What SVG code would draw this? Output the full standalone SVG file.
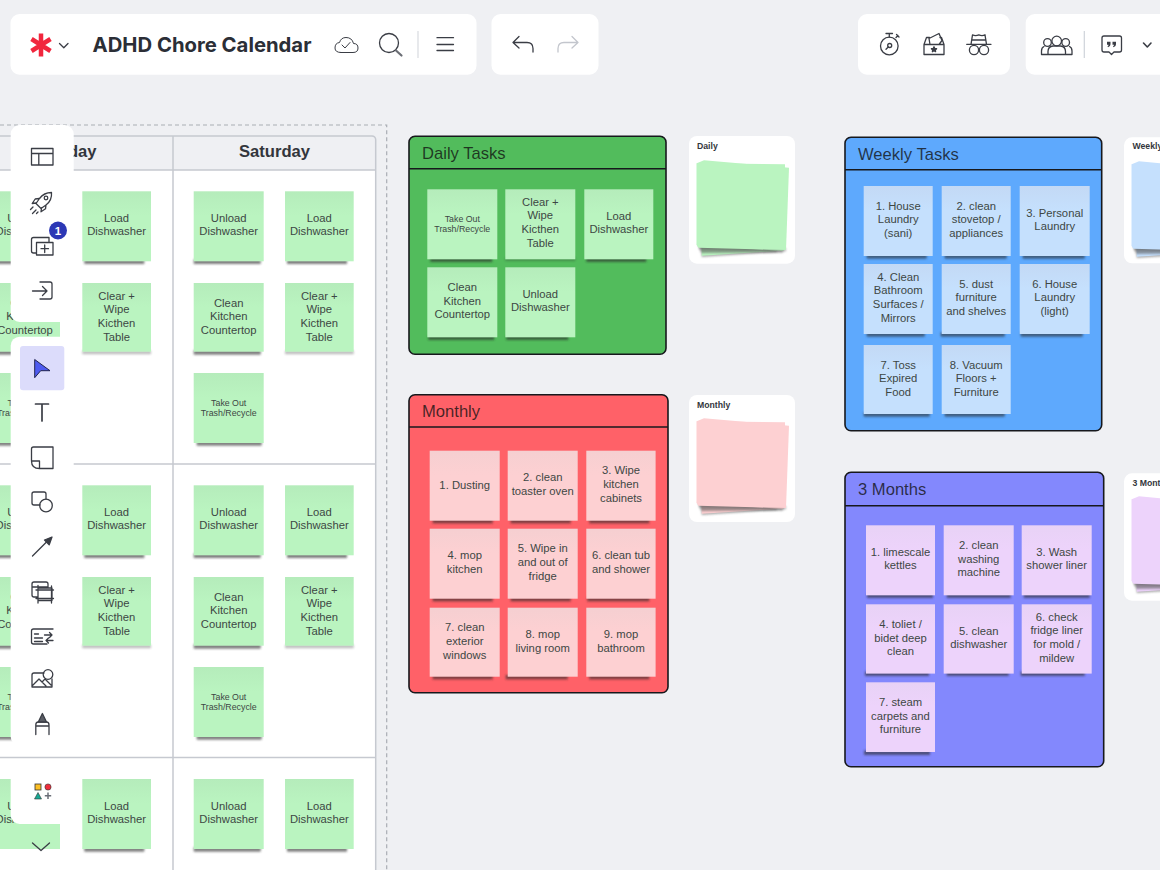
<svg xmlns="http://www.w3.org/2000/svg" width="1160" height="870" viewBox="0 0 1160 870">
<style>
text{font-family:"Liberation Sans",Arial,sans-serif}
.pn{fill:#fff}
.ic{fill:none;stroke:#3a3d45;stroke-width:1.3;stroke-linecap:round;stroke-linejoin:round}
.ln{fill:none;stroke:#c6c9d0;stroke-width:1.5}
.sh{fill:#2b2b2b;opacity:.6;filter:url(#bl);transform:translateY(1.2px)}
.gr{fill:url(#gg)}.bu{fill:url(#gb)}.pk{fill:url(#gp)}.pu{fill:url(#gu)}
.t{font-size:11.25px;fill:#3d4744;text-anchor:middle}
.s{font-size:8.8px;fill:#3d4744;text-anchor:middle}
.fr{stroke:#17181c;stroke-width:1.6}
.ti{font-size:16.6px;fill:#111;fill-opacity:.78}
.hd{font-size:16.6px;font-weight:700;fill:#33363c}
.cl{font-size:8.7px;font-weight:700;fill:#33363c}
</style>
<defs>
<filter id="bl" x="-20%" y="-100%" width="140%" height="300%"><feGaussianBlur stdDeviation="1.2"/></filter>
<linearGradient id="gg" x1="0" y1="0" x2="0" y2="1"><stop offset="0" stop-color="#b5ecbb"/><stop offset=".35" stop-color="#baf4c0"/></linearGradient>
<linearGradient id="gb" x1="0" y1="0" x2="0" y2="1"><stop offset="0" stop-color="#c3d9f5"/><stop offset=".35" stop-color="#c5e0fd"/></linearGradient>
<linearGradient id="gp" x1="0" y1="0" x2="0" y2="1"><stop offset="0" stop-color="#f5cfd1"/><stop offset=".35" stop-color="#fdd0d2"/></linearGradient>
<linearGradient id="gu" x1="0" y1="0" x2="0" y2="1"><stop offset="0" stop-color="#e8d2f6"/><stop offset=".35" stop-color="#edd3fb"/></linearGradient>
<g id="stk">
<polygon points="12.700,117 88,112 88,116 12.700,121" style="fill:#555;opacity:.5;filter:url(#bl)"/>
<polygon points="10,29 96,29 88,115 12.700,119.700"/>
<polygon points="9,108 94,113 94,116.500 12,117" style="fill:#555;opacity:.55;filter:url(#bl)"/>
<polygon points="7.700,27.300 96,28.300 94.300,115 7.700,109"/>
<polygon points="10,110 97,112 97,115.500 10,113.500" style="fill:#555;opacity:.4;filter:url(#bl)"/>
<polygon points="15,24.300 100,31.700 97,114 9.300,111.700 7.700,109 7.700,27.300"/>
</g>
</defs>
<rect width="1160" height="870" fill="#eff0f3"/>

<g id="calendar-table">
<rect x="-5" y="170" width="380.700" height="705" fill="#fff"/>
<path class="ln" d="M-5 136H372a3.700 3.700 0 0 1 3.700 3.700V875M-5 170H375.700M173 136V875M-5 464H375.700M-5 757.500H375.700"/>
<text class="hd" x="96.500" y="156.700" text-anchor="end">Friday</text>
<text class="hd" x="274.500" y="156.700" text-anchor="middle">Saturday</text>
</g>
<path id="frame" d="M0 125H386.700V870" fill="none" stroke="#a9adb4" stroke-width="1.200" stroke-dasharray="4 3"/>

<g id="row1">
<g id="r1a" transform="translate(-10,191.300)"><rect class="sh" x="2" y="67" width="62" height="4.500"/><rect class="gr" width="70" height="70"/><text class="t"><tspan x="35" y="30.500">Unload</tspan><tspan x="35" y="44.200">Dishwasher</tspan></text></g>
<g id="r1b" transform="translate(-10,283)"><rect class="sh" x="2" y="66" width="62" height="4.500"/><rect class="gr" width="70" height="68.700"/><text class="t"><tspan x="35" y="23.700">Clean</tspan><tspan x="35" y="37.400">Kitchen</tspan><tspan x="35" y="51">Countertop</tspan></text></g>
<g id="r1c" transform="translate(-10,373)"><rect class="sh" x="5" y="67" width="62" height="4.500"/><rect class="gr" width="70" height="70"/><text class="s"><tspan x="35" y="32.700">Take Out</tspan><tspan x="35" y="42.700">Trash/Recycle</tspan></text></g>
<g id="r1d" transform="translate(82.300,191.300)"><rect class="sh" x="2" y="67" width="60" height="4.500"/><rect class="gr" width="68.700" height="70"/><text class="t"><tspan x="34.300" y="30.500">Load</tspan><tspan x="34.300" y="44.200">Dishwasher</tspan></text></g>
<g id="r1e" transform="translate(82.300,283)"><rect class="sh" x="0" y="66.500" width="68.700" height="3.500" style="opacity:.3"/><rect class="gr" width="68.700" height="68.700"/><text class="t"><tspan x="34.300" y="16.500">Clear +</tspan><tspan x="34.300" y="30.200">Wipe</tspan><tspan x="34.300" y="43.900">Kicthen</tspan><tspan x="34.300" y="57.500">Table</tspan></text></g>
<g id="r1f" transform="translate(193.700,191.300)"><rect class="sh" x="0" y="67" width="67" height="4.500"/><rect class="gr" width="70" height="70"/><text class="t"><tspan x="35" y="30.500">Unload</tspan><tspan x="35" y="44.200">Dishwasher</tspan></text></g>
<g id="r1g" transform="translate(193.700,283)"><rect class="sh" x="0" y="66" width="67" height="4.500"/><rect class="gr" width="70" height="68.700"/><text class="t"><tspan x="35" y="23.700">Clean</tspan><tspan x="35" y="37.400">Kitchen</tspan><tspan x="35" y="51">Countertop</tspan></text></g>
<g id="r1h" transform="translate(193.700,373)"><rect class="sh" x="3" y="67" width="65" height="4.500"/><rect class="gr" width="70" height="70"/><text class="s"><tspan x="35" y="32.700">Take Out</tspan><tspan x="35" y="42.700">Trash/Recycle</tspan></text></g>
<g id="r1i" transform="translate(285,191.300)"><rect class="sh" x="2" y="67" width="60" height="4.500"/><rect class="gr" width="68.700" height="70"/><text class="t"><tspan x="34.300" y="30.500">Load</tspan><tspan x="34.300" y="44.200">Dishwasher</tspan></text></g>
<g id="r1j" transform="translate(285,283)"><rect class="sh" x="0" y="66.500" width="68.700" height="3.500" style="opacity:.3"/><rect class="gr" width="68.700" height="68.700"/><text class="t"><tspan x="34.300" y="16.500">Clear +</tspan><tspan x="34.300" y="30.200">Wipe</tspan><tspan x="34.300" y="43.900">Kicthen</tspan><tspan x="34.300" y="57.500">Table</tspan></text></g>
</g>

<g id="row2">
<g id="r2a" transform="translate(-10,485.300)"><rect class="sh" x="2" y="67" width="62" height="4.500"/><rect class="gr" width="70" height="70"/><text class="t"><tspan x="35" y="30.500">Unload</tspan><tspan x="35" y="44.200">Dishwasher</tspan></text></g>
<g id="r2b" transform="translate(-10,577)"><rect class="sh" x="2" y="66" width="62" height="4.500"/><rect class="gr" width="70" height="68.700"/><text class="t"><tspan x="35" y="23.700">Clean</tspan><tspan x="35" y="37.400">Kitchen</tspan><tspan x="35" y="51">Countertop</tspan></text></g>
<g id="r2c" transform="translate(-10,667)"><rect class="sh" x="5" y="67" width="62" height="4.500"/><rect class="gr" width="70" height="70"/><text class="s"><tspan x="35" y="32.700">Take Out</tspan><tspan x="35" y="42.700">Trash/Recycle</tspan></text></g>
<g id="r2d" transform="translate(82.300,485.300)"><rect class="sh" x="2" y="67" width="60" height="4.500"/><rect class="gr" width="68.700" height="70"/><text class="t"><tspan x="34.300" y="30.500">Load</tspan><tspan x="34.300" y="44.200">Dishwasher</tspan></text></g>
<g id="r2e" transform="translate(82.300,577)"><rect class="sh" x="0" y="66.500" width="68.700" height="3.500" style="opacity:.3"/><rect class="gr" width="68.700" height="68.700"/><text class="t"><tspan x="34.300" y="16.500">Clear +</tspan><tspan x="34.300" y="30.200">Wipe</tspan><tspan x="34.300" y="43.900">Kicthen</tspan><tspan x="34.300" y="57.500">Table</tspan></text></g>
<g id="r2f" transform="translate(193.700,485.300)"><rect class="sh" x="0" y="67" width="67" height="4.500"/><rect class="gr" width="70" height="70"/><text class="t"><tspan x="35" y="30.500">Unload</tspan><tspan x="35" y="44.200">Dishwasher</tspan></text></g>
<g id="r2g" transform="translate(193.700,577)"><rect class="sh" x="0" y="66" width="67" height="4.500"/><rect class="gr" width="70" height="68.700"/><text class="t"><tspan x="35" y="23.700">Clean</tspan><tspan x="35" y="37.400">Kitchen</tspan><tspan x="35" y="51">Countertop</tspan></text></g>
<g id="r2h" transform="translate(193.700,667)"><rect class="sh" x="3" y="67" width="65" height="4.500"/><rect class="gr" width="70" height="70"/><text class="s"><tspan x="35" y="32.700">Take Out</tspan><tspan x="35" y="42.700">Trash/Recycle</tspan></text></g>
<g id="r2i" transform="translate(285,485.300)"><rect class="sh" x="2" y="67" width="60" height="4.500"/><rect class="gr" width="68.700" height="70"/><text class="t"><tspan x="34.300" y="30.500">Load</tspan><tspan x="34.300" y="44.200">Dishwasher</tspan></text></g>
<g id="r2j" transform="translate(285,577)"><rect class="sh" x="0" y="66.500" width="68.700" height="3.500" style="opacity:.3"/><rect class="gr" width="68.700" height="68.700"/><text class="t"><tspan x="34.300" y="16.500">Clear +</tspan><tspan x="34.300" y="30.200">Wipe</tspan><tspan x="34.300" y="43.900">Kicthen</tspan><tspan x="34.300" y="57.500">Table</tspan></text></g>
</g>

<g id="row3">
<g id="r3a" transform="translate(-10,779)"><rect class="gr" width="70" height="70"/><text class="t"><tspan x="35" y="30.500">Unload</tspan><tspan x="35" y="44.200">Dishwasher</tspan></text></g>
<g id="r3b" transform="translate(82.300,779)"><rect class="sh" x="2" y="67" width="60" height="4.500"/><rect class="gr" width="68.700" height="70"/><text class="t"><tspan x="34.300" y="30.500">Load</tspan><tspan x="34.300" y="44.200">Dishwasher</tspan></text></g>
<g id="r3c" transform="translate(193.700,779)"><rect class="sh" x="0" y="67" width="67" height="4.500"/><rect class="gr" width="70" height="70"/><text class="t"><tspan x="35" y="30.500">Unload</tspan><tspan x="35" y="44.200">Dishwasher</tspan></text></g>
<g id="r3d" transform="translate(285,779)"><rect class="sh" x="2" y="67" width="60" height="4.500"/><rect class="gr" width="68.700" height="70"/><text class="t"><tspan x="34.300" y="30.500">Load</tspan><tspan x="34.300" y="44.200">Dishwasher</tspan></text></g>
</g>

<g id="daily-tasks">
<rect class="fr" x="409" y="136.300" width="257" height="218" rx="6" fill="#52bc5c"/>
<path class="fr" d="M409 168.700H666" fill="none"/>
<text class="ti" x="422" y="158.500">Daily Tasks</text>
<g id="d1" transform="translate(427.300,189.300)"><rect class="sh" x="3" y="67" width="62" height="4.500"/><rect class="gr" width="70" height="70"/><text class="s"><tspan x="35" y="32.700">Take Out</tspan><tspan x="35" y="42.700">Trash/Recycle</tspan></text></g>
<g id="d2" transform="translate(505.300,189.300)"><rect class="sh" x="0" y="67" width="70" height="3.500" style="opacity:.3"/><rect class="gr" width="70" height="70"/><text class="t"><tspan x="35" y="16.500">Clear +</tspan><tspan x="35" y="30.200">Wipe</tspan><tspan x="35" y="43.900">Kicthen</tspan><tspan x="35" y="57.500">Table</tspan></text></g>
<g id="d3" transform="translate(584.300,189.300)"><rect class="sh" x="2" y="67" width="60" height="4.500"/><rect class="gr" width="69" height="70"/><text class="t"><tspan x="34.500" y="30.500">Load</tspan><tspan x="34.500" y="44.200">Dishwasher</tspan></text></g>
<g id="d4" transform="translate(427.300,267.300)"><rect class="sh" x="1" y="67" width="66" height="4.500"/><rect class="gr" width="70" height="70"/><text class="t"><tspan x="35" y="23.700">Clean</tspan><tspan x="35" y="37.400">Kitchen</tspan><tspan x="35" y="51">Countertop</tspan></text></g>
<g id="d5" transform="translate(505.300,267.300)"><rect class="sh" x="1" y="67" width="62" height="4.500"/><rect class="gr" width="70" height="70"/><text class="t"><tspan x="35" y="30.500">Unload</tspan><tspan x="35" y="44.200">Dishwasher</tspan></text></g>
</g>

<g id="daily-card"><rect class="pn" x="689" y="136" width="106" height="127.700" rx="8"/><text class="cl" x="697" y="148.500">Daily</text><use href="#stk" x="689" y="136" fill="#baf4c0"/></g>

<g id="monthly">
<rect class="fr" x="409" y="394.700" width="259" height="298" rx="6" fill="#ff6168"/>
<path class="fr" d="M409 427H668" fill="none"/>
<text class="ti" x="422" y="417">Monthly</text>
<g id="m1" transform="translate(429.700,450.700)"><rect class="sh" x="3" y="67" width="60" height="4.500"/><rect class="pk" width="70" height="70"/><text class="t"><tspan x="35" y="38.500">1. Dusting</tspan></text></g>
<g id="m2" transform="translate(507.700,450.700)"><rect class="sh" x="3" y="67" width="60" height="4.500"/><rect class="pk" width="70" height="70"/><text class="t"><tspan x="35" y="30.500">2. clean</tspan><tspan x="35" y="44.200">toaster oven</tspan></text></g>
<g id="m3" transform="translate(586.300,450.700)"><rect class="sh" x="3" y="67" width="60" height="4.500"/><rect class="pk" width="69.300" height="70"/><text class="t"><tspan x="34.700" y="23.700">3. Wipe</tspan><tspan x="34.700" y="37.400">kitchen</tspan><tspan x="34.700" y="51">cabinets</tspan></text></g>
<g id="m4" transform="translate(429.700,528.700)"><rect class="sh" x="3" y="67" width="60" height="4.500"/><rect class="pk" width="70" height="70"/><text class="t"><tspan x="35" y="30.500">4. mop</tspan><tspan x="35" y="44.200">kitchen</tspan></text></g>
<g id="m5" transform="translate(507.700,528.700)"><rect class="sh" x="3" y="67" width="60" height="4.500"/><rect class="pk" width="70" height="70"/><text class="t"><tspan x="35" y="23.700">5. Wipe in</tspan><tspan x="35" y="37.400">and out of</tspan><tspan x="35" y="51">fridge</tspan></text></g>
<g id="m6" transform="translate(586.300,528.700)"><rect class="sh" x="1" y="67" width="62" height="4.500"/><rect class="pk" width="69.300" height="70"/><text class="t"><tspan x="34.700" y="30.500">6. clean tub</tspan><tspan x="34.700" y="44.200">and shower</tspan></text></g>
<g id="m7" transform="translate(429.700,607.700)"><rect class="sh" x="3" y="66" width="60" height="4.500"/><rect class="pk" width="70" height="69"/><text class="t"><tspan x="35" y="23.700">7. clean</tspan><tspan x="35" y="37.400">exterior</tspan><tspan x="35" y="51">windows</tspan></text></g>
<g id="m8" transform="translate(507.700,607.700)"><rect class="sh" x="-2" y="66" width="62" height="4.500"/><rect class="pk" width="70" height="69"/><text class="t"><tspan x="35" y="30.500">8. mop</tspan><tspan x="35" y="44.200">living room</tspan></text></g>
<g id="m9" transform="translate(586.300,607.700)"><rect class="sh" x="3" y="66" width="60" height="4.500"/><rect class="pk" width="69.300" height="69"/><text class="t"><tspan x="34.700" y="30.500">9. mop</tspan><tspan x="34.700" y="44.200">bathroom</tspan></text></g>
</g>

<g id="monthly-card"><rect class="pn" x="689" y="395" width="106" height="127" rx="8"/><text class="cl" x="697" y="407.500">Monthly</text><use href="#stk" x="689" y="394" fill="#fdd0d2"/></g>

<g id="weekly-tasks">
<rect class="fr" x="845" y="137.300" width="256.700" height="293.400" rx="6" fill="#5ea9fd"/>
<path class="fr" d="M845 169.700H1101.700" fill="none"/>
<text class="ti" x="858" y="159.500">Weekly Tasks</text>
<g id="w1" transform="translate(863.700,186)"><rect class="sh" x="3" y="67" width="60" height="4.500"/><rect class="bu" width="69" height="70"/><text class="t"><tspan x="34.500" y="23.700">1. House</tspan><tspan x="34.500" y="37.400">Laundry</tspan><tspan x="34.500" y="51">(sani)</tspan></text></g>
<g id="w2" transform="translate(941.700,186)"><rect class="sh" x="3" y="67" width="62" height="4.500"/><rect class="bu" width="69" height="70"/><text class="t"><tspan x="34.500" y="23.700">2. clean</tspan><tspan x="34.500" y="37.400">stovetop /</tspan><tspan x="34.500" y="51">appliances</tspan></text></g>
<g id="w3" transform="translate(1019.700,186)"><rect class="sh" x="3" y="67" width="62" height="4.500"/><rect class="bu" width="70" height="70"/><text class="t"><tspan x="35" y="30.500">3. Personal</tspan><tspan x="35" y="44.200">Laundry</tspan></text></g>
<g id="w4" transform="translate(863.700,264)"><rect class="sh" x="3" y="67" width="58" height="4.500"/><rect class="bu" width="69" height="70"/><text class="t"><tspan x="34.500" y="16.500">4. Clean</tspan><tspan x="34.500" y="30.200">Bathroom</tspan><tspan x="34.500" y="43.900">Surfaces /</tspan><tspan x="34.500" y="57.500">Mirrors</tspan></text></g>
<g id="w5" transform="translate(941.700,264)"><rect class="sh" x="-1" y="67" width="64" height="4.500"/><rect class="bu" width="69" height="70"/><text class="t"><tspan x="34.500" y="23.700">5. dust</tspan><tspan x="34.500" y="37.400">furniture</tspan><tspan x="34.500" y="51">and shelves</tspan></text></g>
<g id="w6" transform="translate(1019.700,264)"><rect class="sh" x="1" y="67" width="62" height="4.500"/><rect class="bu" width="70" height="70"/><text class="t"><tspan x="35" y="23.700">6. House</tspan><tspan x="35" y="37.400">Laundry</tspan><tspan x="35" y="51">(light)</tspan></text></g>
<g id="w7" transform="translate(863.700,345)"><rect class="sh" x="0" y="66" width="66" height="4.500"/><rect class="bu" width="69" height="69"/><text class="t"><tspan x="34.500" y="23.700">7. Toss</tspan><tspan x="34.500" y="37.400">Expired</tspan><tspan x="34.500" y="51">Food</tspan></text></g>
<g id="w8" transform="translate(941.700,345)"><rect class="sh" x="3" y="66" width="60" height="4.500"/><rect class="bu" width="69" height="69"/><text class="t"><tspan x="34.500" y="23.700">8. Vacuum</tspan><tspan x="34.500" y="37.400">Floors +</tspan><tspan x="34.500" y="51">Furniture</tspan></text></g>
</g>

<g id="weekly-card"><rect class="pn" x="1124" y="137.300" width="106" height="126" rx="8"/><text class="cl" x="1132.500" y="149">Weekly</text><use href="#stk" x="1124" y="137" fill="#c5e0fd"/></g>

<g id="three-months">
<rect class="fr" x="845" y="472.300" width="258.700" height="294.400" rx="6" fill="#8388fd"/>
<path class="fr" d="M845 505.700H1103.700" fill="none"/>
<text class="ti" x="858" y="495.300">3 Months</text>
<g id="q1" transform="translate(866,525.300)"><rect class="sh" x="1" y="67" width="66" height="4.500"/><rect class="pu" width="69" height="70"/><text class="t"><tspan x="34.500" y="30.500">1. limescale</tspan><tspan x="34.500" y="44.200">kettles</tspan></text></g>
<g id="q2" transform="translate(943.700,525.300)"><rect class="sh" x="3" y="67" width="64" height="4.500"/><rect class="pu" width="70" height="70"/><text class="t"><tspan x="35" y="23.700">2. clean</tspan><tspan x="35" y="37.400">washing</tspan><tspan x="35" y="51">machine</tspan></text></g>
<g id="q3" transform="translate(1021.700,525.300)"><rect class="sh" x="2" y="67" width="66" height="4.500"/><rect class="pu" width="70" height="70"/><text class="t"><tspan x="35" y="30.500">3. Wash</tspan><tspan x="35" y="44.200">shower liner</tspan></text></g>
<g id="q4" transform="translate(866,604.300)"><rect class="sh" x="-1" y="66" width="64" height="4.500"/><rect class="pu" width="69" height="69.300"/><text class="t"><tspan x="34.500" y="23.700">4. toliet  /</tspan><tspan x="34.500" y="37.400">bidet deep</tspan><tspan x="34.500" y="51">clean</tspan></text></g>
<g id="q5" transform="translate(943.700,604.300)"><rect class="sh" x="3" y="66" width="62" height="4.500"/><rect class="pu" width="70" height="69.300"/><text class="t"><tspan x="35" y="30.500">5. clean</tspan><tspan x="35" y="44.200">dishwasher</tspan></text></g>
<g id="q6" transform="translate(1021.700,604.300)"><rect class="sh" x="-1" y="66" width="64" height="4.500"/><rect class="pu" width="70" height="69.300"/><text class="t"><tspan x="35" y="16.500">6. check</tspan><tspan x="35" y="30.200">fridge liner</tspan><tspan x="35" y="43.900">for mold /</tspan><tspan x="35" y="57.500">mildew</tspan></text></g>
<g id="q7" transform="translate(866,682.300)"><rect class="sh" x="-2" y="67" width="66" height="4.500"/><rect class="pu" width="69" height="69.700"/><text class="t"><tspan x="34.500" y="23.700">7. steam</tspan><tspan x="34.500" y="37.400">carpets and</tspan><tspan x="34.500" y="51">furniture</tspan></text></g>
</g>

<g id="three-months-card"><rect class="pn" x="1124" y="473.300" width="106" height="127.400" rx="8"/><text class="cl" x="1132.500" y="485.500">3 Months</text><use href="#stk" x="1124" y="472" fill="#edd3fb"/></g>

<g id="toolbar-left-top">
<rect class="pn" x="10.700" y="125" width="63" height="197" rx="9"/>
<g class="ic">
<path d="M31.500 148.500H53V165H31.500ZM31.500 153.500H53M38.800 153.500V165"/>
<path d="M51.500 192.500c-5 0-9 2-12 6l-3.500 5 5 5 5-3.500c4-3 6-7 5.500-12.500ZM36 203l-3.800.5 3-4.500 4-.5M41.500 208l-.5 3.800 4.500-3 .5-4M33 207l-2.500 2.500M36 210l-3.500 3.500M38 212l-1.500 1.500"/>
<circle cx="46" cy="198" r="1.800"/>
<path d="M36 253H33.500q-2 0-2-2V239.500q0-2 2-2H49v5M36.500 242.500H53V255H36.500ZM44.700 245v7.500M41 248.700h7.500"/>
<path d="M32.500 291H47M42.500 286.500 47 291l-4.500 4.500M40 282h10q2 0 2 2v13q0 2-2 2H40"/>
</g>
<circle cx="58" cy="230.500" r="9" fill="#2c38b5"/>
<text x="58" y="234.700" text-anchor="middle" font-size="11.500" font-weight="700" fill="#fff">1</text>
</g>

<g id="toolbar-left-tools">
<rect class="pn" x="10.700" y="336.700" width="63" height="409" rx="9"/>
<rect x="20" y="346" width="44.300" height="44.300" rx="3" fill="#dcdcfb"/>
<path d="M34.700 359.500 50 370.700H40.700L34.700 377.700Z" fill="#4e5bf0" stroke="#23264f" stroke-width="1" stroke-linejoin="round"/>
<g class="ic">
<path d="M35.500 404H48.500M42 404V421" stroke-width="1.700"/>
<path d="M33.500 447H53V468.500H39.500Q31.500 468.500 31.500 461V449Q31.500 447 33.500 447ZM31.500 461H39.500V468.500"/>
<path d="M40 505H34q-2 0-2-2v-9q0-2 2-2h10q2 0 2 2v5"/>
<circle cx="46" cy="505.500" r="6.300"/>
<path d="M32.500 556 50 538.500"/>
<path d="M52 537 44.500 540l4.700 4.700Z" fill="#3a3d45"/>
<path d="M37.500 597H34q-2 0-2-2V584q0-2 2-2h12q2 0 2 2v3.500M32 587H48M38 588H52V600.500H38ZM38 585.500V603M51.500 586V603M36 590H53.500M36 598.500H53.500"/>
<path d="M47 644H33.500q-2 0-2-2v-11q0-2 2-2H53M34.500 634h4M34.500 638h8M34.500 641.500h8M44.500 635H52M49.500 632.500 52 635l-2.500 2.500M53 640.500H46M48.500 638 46 640.500 48.500 643"/>
<path d="M44 673H34q-2 0-2 2v12H52V679M32 686l7-7 7 7M42 682l3-3 6 6"/>
<circle cx="48" cy="674.500" r="4.800"/>
<path d="M35.800 734.500V725q0-3 2.500-3h8.200q2.500 0 2.500 3v9.500M35.800 726H49"/>
<path d="M38.300 722l4.100-8.500 4.100 8.500Z" fill="#5a5d65"/>
</g>
</g>

<g id="toolbar-left-apps">
<rect class="pn" x="10.700" y="760.700" width="63" height="63.300" rx="9"/>
<rect x="35" y="784" width="6" height="6" fill="#fcbf24" stroke="#333" stroke-width=".8"/>
<circle cx="48" cy="787" r="3.100" fill="#ef2d3c" stroke="#333" stroke-width=".6"/>
<path d="M38 792.500 41.500 799H34.500Z" fill="#17a994" stroke="#333" stroke-width=".6"/>
<path d="M48 792.500V799M44.800 795.800H51.200" stroke="#6b6f78" stroke-width="1.500" fill="none"/>
</g>
<path id="scroll-chevron" class="ic" d="M32.500 843 41 850.500 49.500 843"/>

<g id="toolbar-title">
<rect class="pn" x="10.500" y="14" width="466" height="60.700" rx="9"/>
<path d="M41 33.500V56.500M31.500 39 50.500 51M50.500 39 31.500 51" stroke="#f1263d" stroke-width="4.500" fill="none"/>
<path class="ic" d="M59.500 43.500 63.800 47.800 68 43.500" stroke-width="1.500"/>
<text x="92.500" y="52" font-size="20.300" font-weight="700" fill="#2b2e36" style="font-family:Inter,'Liberation Sans',sans-serif">ADHD Chore Calendar</text>
<g class="ic">
<path d="M341 52.500h12q5 0 5-4.500t-4.500-4.500q-1.500-6-7.500-6-5 0-6.500 5-4.500.5-4.500 5.500 0 4.500 6 4.500Z" stroke-width="1"/>
<path d="M342 45l3 3 5-5.500" stroke-width="1"/>
<circle cx="389" cy="43" r="9.500"/>
<path d="M396 50.500 401.500 55.500" stroke-width="2.200" style="stroke:#6b6e75"/>
<path d="M437 37.700H453.500M437 44.500H453.500M437 50.500H453.500" stroke-width="1.300"/>
</g>
<path d="M418 31V58" stroke="#d8dbe0" stroke-width="1.200"/>
</g>

<g id="toolbar-undo">
<rect class="pn" x="491.500" y="14" width="107" height="60.700" rx="9"/>
<path class="ic" d="M519 36.500 513 42.500 519 48M513 42.500H527q6 0 6 6V52" stroke-width="1.100"/>
<path class="ic" style="stroke:#c3c6cd" d="M572 36.500 578 42.500 572 48M578 42.500H564q-6 0-6 6V52"/>
</g>

<g id="toolbar-tools">
<rect class="pn" x="858" y="14" width="152" height="60.700" rx="9"/>
<g class="ic">
<circle cx="889.300" cy="46" r="8.800"/>
<path d="M886 33.500H892.500M889.300 33.500V37M896 37.500l2-2M896.500 34.500l2.500 2.500"/>
<circle cx="889.700" cy="45.500" r="2"/>
<path d="M888.300 47 886 49.300"/>
<path d="M924 44.500h20V54.500H924ZM924 44.500l2.500-7h3M944 44.500l-2.500-7h-1.500M930 44.500l-1-6 10-5 3 7-3 4"/>
<path d="M934 46.800l.8 1.700 1.800.2-1.300 1.200.3 1.800-1.600-.9-1.600.9.300-1.800-1.300-1.200 1.800-.2Z" fill="#3a3d45"/>
<path d="M966.700 44.300H991M971 44.300l1.500-9.500q3 1.500 6.300 0 3.300 1.500 6.200 0l1.500 9.500M971.800 40h14"/>
<circle cx="974" cy="50" r="4.600"/>
<circle cx="984" cy="50" r="4.600"/>
</g>
</g>

<g id="toolbar-share">
<rect class="pn" x="1025.700" y="14" width="150" height="60.700" rx="9"/>
<g class="ic">
<circle cx="1056.700" cy="41" r="4.800"/>
<circle cx="1047.500" cy="42.500" r="3.800"/>
<circle cx="1065.700" cy="42.500" r="3.800"/>
<path d="M1048 54.500v-3q0-5 5-5.500h7.500q5 .5 5 5.500v3ZM1044 46.500q-2.500 1-2.500 4.500v3.500h6.500M1069.500 46.500q2.500 1 2.500 4.500v3.500h-6.500"/>
<path d="M1104 36h15.500q2 0 2 2v12q0 2-2 2H1114l-2.500 2.500-2.500-2.500h-5q-2 0-2-2V38q0-2 2-2Z"/>
<path d="M1143.500 43 1147.300 47 1151 43" stroke-width="1.600"/>
</g>
<path d="M1084.300 31V58" stroke="#ced3da" stroke-width="1.200"/>
<path d="M1107 41.700h3.500v2.500q0 2.500-2.500 3l-.5-1q1-.3 1-1.500H1107ZM1112.500 41.700h3.500v2.500q0 2.500-2.500 3l-.5-1q1-.3 1-1.500H1112.500Z" fill="#3a3d45"/>
</g>
</svg>
